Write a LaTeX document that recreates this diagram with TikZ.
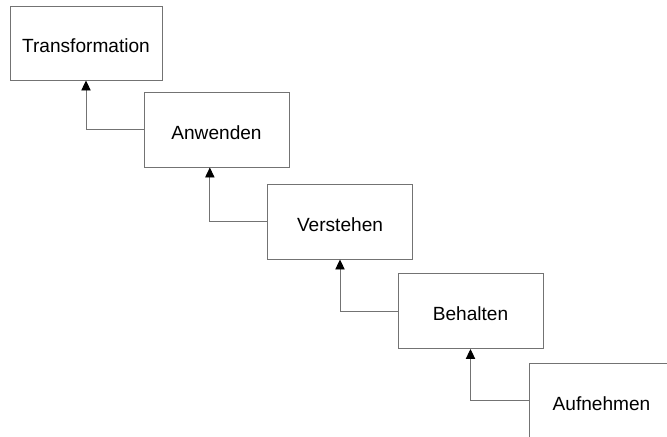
\documentclass[tikz,border=0pt]{standalone}
\usepackage{fontspec}
\setmainfont{Liberation Sans}
\usepackage{tikz}
\usetikzlibrary{arrows.meta}
\tikzset{
    every node/.style={rectangle, draw=black!55, line width=0.8pt,
        minimum width=4.35cm, minimum height=2.25cm,
        text height=17pt, text depth=0pt,
        font=\fontsize{16.3}{19}\selectfont},
    up/.style={draw=black!55, line width=0.8pt,
        -{Triangle[length=3mm, width=2.8mm, fill=black, color=black]}}
}

\begin{document}
\begin{tikzpicture}[x=0.03cm, y=-0.03cm]
  \useasboundingbox (0,0) rectangle (667,436);
  \node (trans) [minimum width=4.56cm, minimum height=2.22cm] at (86, 43) {Transformation};
  \node (anw) at (216.5, 129.5) {Anwenden};
  \node (verst) at (340, 221.5) {Verstehen};
  \node (beh) at (470.5, 311) {Behalten};
  \node (aufn) at (601.5, 400.5) {Aufnehmen};

  \draw [up] (anw.west) -| (trans.south);
  \draw [up] (verst.west) -| ([xshift=-0.2cm]anw.south);
  \draw [up] (beh.west) -| (verst.south);
  \draw [up] (aufn.west) -| (beh.south);
\end{tikzpicture}
\end{document}
